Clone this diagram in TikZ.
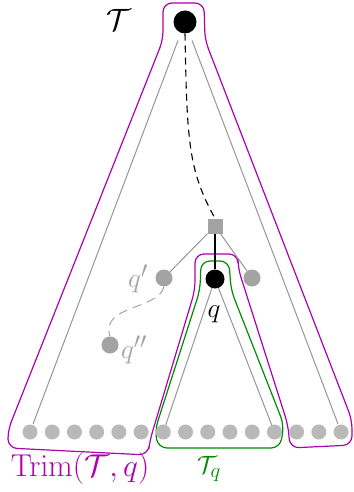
\documentclass[tikz,border=0pt]{standalone}
\definecolor{mag}{RGB}{175,0,175}
\definecolor{grn}{RGB}{0,140,0}
\definecolor{leafgray}{RGB}{185,185,185}
\definecolor{nodegray}{RGB}{163,163,163}
\definecolor{linegray}{RGB}{150,150,150}
\begin{document}
\begin{tikzpicture}[x=1pt,y=-1pt,
  font=\fontsize{24.88}{30}\selectfont,
  leafnode/.style={circle, fill=leafgray, minimum size=15pt, inner sep=0pt},
  innode/.style={circle, fill=nodegray, minimum size=17pt, inner sep=0pt},
  blacknode/.style={circle, fill=black, inner sep=0pt},
  sqnode/.style={rectangle, fill=nodegray, minimum size=15pt, inner sep=0pt},
  treeedge/.style={draw=linegray, line width=1pt},
  outline/.style={line width=1.2pt, rounded corners=9pt},
  lbl/.style={inner sep=0pt}
]
\useasboundingbox (0,0) rectangle (353,492);

% outlines
\draw[outline, mag] (163,3) -- (204,3) -- (205,40) -- (352,420) -- (352,445)
  -- (290,448) -- (288,425) -- (238,268) -- (238,254) -- (195,254) -- (195,290)
  -- (150,440) -- (148,455) -- (8,448) -- (8,430) -- (163,40) -- cycle;
\draw[outline, grn] (201,261) -- (229,261) -- (231,290) -- (284,425) -- (280,448)
  -- (158,448) -- (155,430) -- (200,290) -- cycle;

% nodes
\node[blacknode, minimum size=23pt] (root) at (185,22) {};
\node[sqnode] (sq) at (215,226) {};
\node[blacknode, minimum size=19pt] (q) at (215,279) {};
\node[innode] (qp) at (164,278) {};
\node[innode] (qs) at (252,278) {};
\node[innode] (qpp) at (110,345) {};
\foreach \i in {1,...,15} {
  \node[leafnode] (l\i) at ({30+22.22*(\i-1)},432) {};
}

% edges
\draw[treeedge, shorten <=8pt, shorten >=1pt] (root) -- (l1);
\draw[treeedge, shorten <=8pt, shorten >=1pt] (root) -- (l15);
\draw[treeedge] (q) -- (l7);
\draw[treeedge] (q) -- (l12);
\draw[treeedge] (sq) -- (qp);
\draw[treeedge] (sq) -- (qs);
\draw[line width=1.1pt] (sq) -- (q);
\draw[line width=1.1pt, dash pattern=on 7pt off 5pt]
  (root.south) .. controls (187,140) and (188,170) .. (sq.north);
\draw[draw=nodegray, line width=1pt, dash pattern=on 9pt off 6pt]
  (qp.south) .. controls (158,310) and (100,305) .. (qpp.north);

% labels
\node[lbl, scale=1.24] (Tlab) at (119,20) {$\mathcal{T}$};
\node[lbl, scale=1.1, text=nodegray] (qplab) at (138,279) {$q'$};
\node[lbl, scale=1.1] (qlab) at (214,314) {$q$};
\node[lbl, scale=1.1, text=nodegray] (qpplab) at (134,350) {$q''$};
\node[lbl, text=grn] (Tqlab) at (209,469) {$\mathcal{T}_q$};
\node[lbl, scale=1.27, text=mag] (trimlab) at (80,469) {$\mathrm{Trim}(\mathcal{T},q)$};
\end{tikzpicture}
\end{document}
